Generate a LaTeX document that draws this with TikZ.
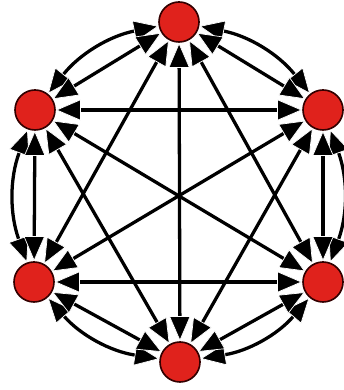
\documentclass[tikz,border=0pt]{standalone}
\usepackage{xcolor}
\usepackage{tikz}
\usetikzlibrary{arrows.meta}
\definecolor{nodered}{RGB}{224,34,28}

\begin{document}
\begin{tikzpicture}[x=0.03cm, y=0.03cm,
    >={Triangle[length=7.5mm, width=6.4mm, fill=black, color=white, line width=0.6pt 0 0]},
    vertex/.style={circle, draw=black!80!red, line width=1.4pt, fill=nodered, minimum size=1.2cm, inner sep=0pt},
    wire/.style={line width=2.8pt, <->}]
    \useasboundingbox (0,0) rectangle (344,390);
    \node[vertex] (top) at (179,368) {};
    \node[vertex] (upleft) at (35,280) {};
    \node[vertex] (upright) at (323,280) {};
    \node[vertex] (lowleft) at (34,108) {};
    \node[vertex] (lowright) at (323,108) {};
    \node[vertex] (bottom) at (180,28) {};
    % outer arcs
    \draw[wire] (top) to[bend right=20] (upleft);
    \draw[wire] (upleft) to[bend right=20] (lowleft);
    \draw[wire] (lowleft) to[bend right=20] (bottom);
    \draw[wire] (bottom) to[bend right=20] (lowright);
    \draw[wire] (lowright) to[bend right=20] (upright);
    \draw[wire] (upright) to[bend right=20] (top);
    % hexagon sides
    \draw[wire] (top) -- (upleft);
    \draw[wire] (upleft) -- (lowleft);
    \draw[wire] (lowleft) -- (bottom);
    \draw[wire] (bottom) -- (lowright);
    \draw[wire] (lowright) -- (upright);
    \draw[wire] (upright) -- (top);
    % inner chords
    \draw[wire] (top) -- (lowleft);
    \draw[wire] (top) -- (lowright);
    \draw[wire] (upleft) -- (bottom);
    \draw[wire] (upright) -- (bottom);
    \draw[wire] (upleft) -- (upright);
    \draw[wire] (lowleft) -- (lowright);
    \draw[wire] (top) -- (bottom);
    \draw[wire] (upleft) -- (lowright);
    \draw[wire] (upright) -- (lowleft);
\end{tikzpicture}
\end{document}
